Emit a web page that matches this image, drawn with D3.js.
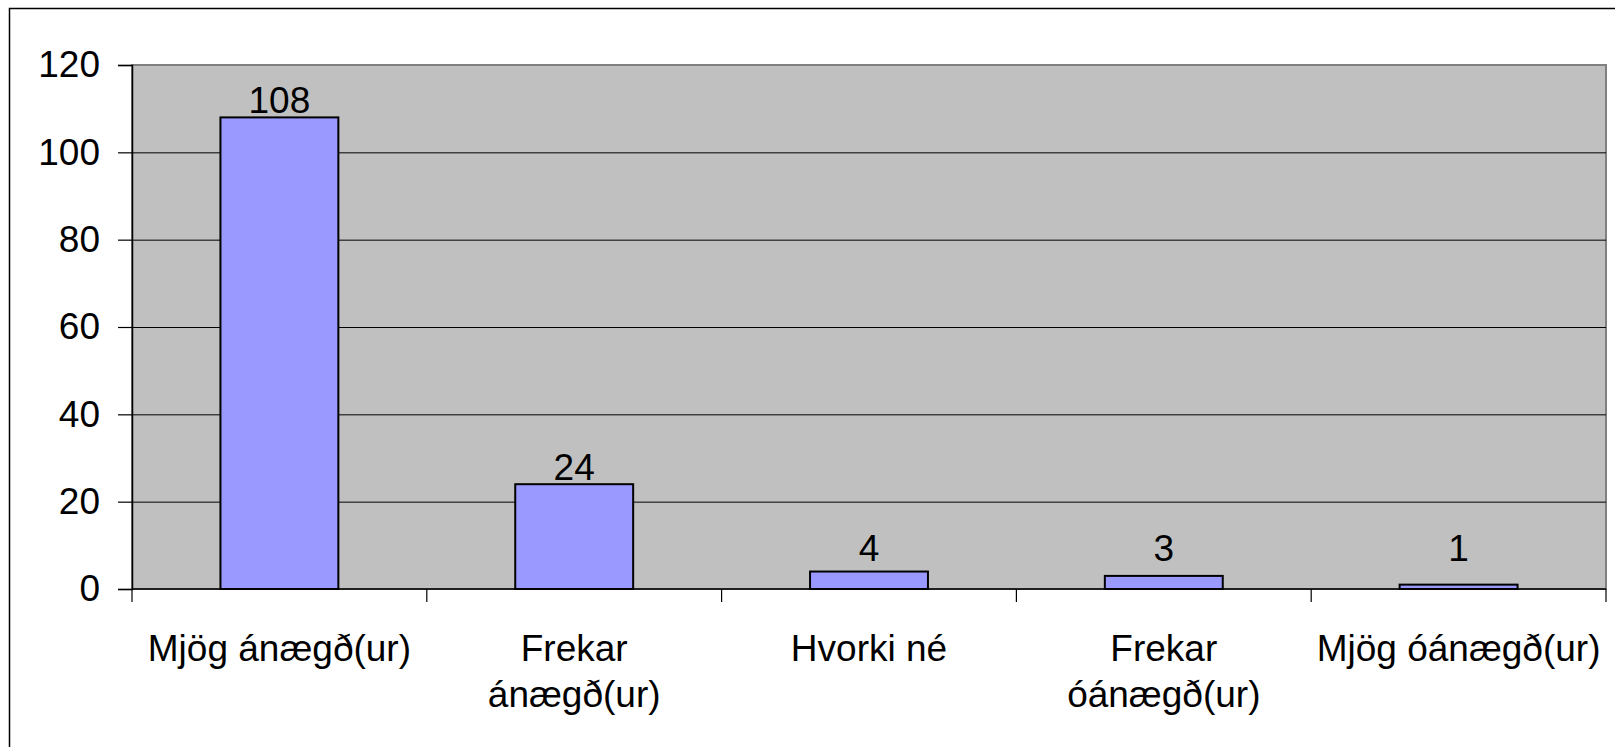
<!DOCTYPE html>
<html>
<head>
<meta charset="utf-8">
<script src="https://cdn.jsdelivr.net/npm/d3@7"></script>
<style>
  html, body { margin: 0; padding: 0; background: #fff; overflow: hidden; }
  text { font-family: "Liberation Sans", Arial, sans-serif; fill: #000; }
</style>
</head>
<body>
<div id="container"></div>
<script>
const categories = ['Mjög ánægð(ur)', 'Frekar ánægð(ur)', 'Hvorki né', 'Frekar óánægð(ur)', 'Mjög óánægð(ur)'];
const tickLabels = [['Mjög ánægð(ur)'], ['Frekar', 'ánægð(ur)'], ['Hvorki né'], ['Frekar', 'óánægð(ur)'], ['Mjög óánægð(ur)']];
const values = [108, 24, 4, 3, 1];
const yTicks = [0, 20, 40, 60, 80, 100, 120];

const W = 1615, H = 747;
const plot = { left: 132, right: 1606, top: 65, bottom: 589 };
const fontSize = 37;

const svg = d3.select('#container')
    .append('svg')
    .attr('width', W)
    .attr('height', H);

// outer chart frame (runs off the right and bottom edges)
svg.append('rect')
    .attr('x', 9.5).attr('y', 8.5)
    .attr('width', W + 20).attr('height', H + 20)
    .attr('fill', '#fff')
    .attr('stroke', '#000')
    .attr('stroke-width', 1.5);

const x = d3.scaleBand()
    .domain(categories)
    .range([plot.left, plot.right])
    .paddingInner(0.6)
    .paddingOuter(0.3);

const y = d3.scaleLinear()
    .domain([0, 120])
    .range([plot.bottom, plot.top]);

// plot area
svg.append('rect')
    .attr('x', plot.left).attr('y', plot.top)
    .attr('width', plot.right - plot.left)
    .attr('height', plot.bottom - plot.top)
    .attr('fill', '#c0c0c0')
    .attr('stroke', '#808080')
    .attr('stroke-width', 2);

// gridlines
svg.append('g')
    .selectAll('line')
    .data(yTicks.filter(d => d > 0 && d < 120))
    .join('line')
    .attr('x1', plot.left).attr('x2', plot.right)
    .attr('y1', d => y(d) + 0.5).attr('y2', d => y(d) + 0.5)
    .attr('stroke', '#000')
    .attr('stroke-width', 1);

// y axis
const yAxis = svg.append('g')
    .attr('transform', `translate(${plot.left}, 0)`)
    .call(d3.axisLeft(y).tickValues(yTicks).tickSize(14).tickPadding(18));
yAxis.select('.domain').attr('stroke', '#000').attr('stroke-width', 1.5);
yAxis.selectAll('.tick line').attr('stroke', '#000').attr('stroke-width', 1.2);
yAxis.selectAll('.tick text')
    .attr('font-size', fontSize)
    .attr('font-family', '"Liberation Sans", Arial, sans-serif')
    .attr('fill', '#000');

// bars
svg.append('g')
    .selectAll('rect')
    .data(values)
    .join('rect')
    .attr('x', (d, i) => x(categories[i]))
    .attr('y', d => y(d))
    .attr('width', x.bandwidth())
    .attr('height', d => y(0) - y(d))
    .attr('fill', '#9999ff')
    .attr('stroke', '#000')
    .attr('stroke-width', 2);

// x axis line and ticks at category boundaries
const step = x.step();
const boundaries = d3.range(categories.length + 1).map(i => plot.left + i * step);
svg.append('line')
    .attr('x1', plot.left).attr('x2', plot.right)
    .attr('y1', y(0)).attr('y2', y(0))
    .attr('stroke', '#000')
    .attr('stroke-width', 1.5);
svg.append('g')
    .selectAll('line')
    .data(boundaries)
    .join('line')
    .attr('x1', d => d).attr('x2', d => d)
    .attr('y1', y(0)).attr('y2', y(0) + 13)
    .attr('stroke', '#000')
    .attr('stroke-width', 1.2);

// category labels
svg.append('g')
    .selectAll('text')
    .data(tickLabels)
    .join('text')
    .attr('x', (d, i) => x(categories[i]) + x.bandwidth() / 2)
    .attr('y', 661)
    .attr('text-anchor', 'middle')
    .attr('font-size', fontSize)
    .each(function (lines) {
        const t = d3.select(this);
        const cx = t.attr('x');
        lines.forEach((line, j) => {
            t.append('tspan')
                .attr('x', cx)
                .attr('dy', j === 0 ? 0 : 46)
                .text(line);
        });
    });

// value labels
svg.append('g')
    .selectAll('text')
    .data(values)
    .join('text')
    .attr('x', (d, i) => x(categories[i]) + x.bandwidth() / 2)
    .attr('y', d => Math.min(y(d) - 4, 561))
    .attr('text-anchor', 'middle')
    .attr('font-size', fontSize)
    .text(d => d);
</script>
</body>
</html>
